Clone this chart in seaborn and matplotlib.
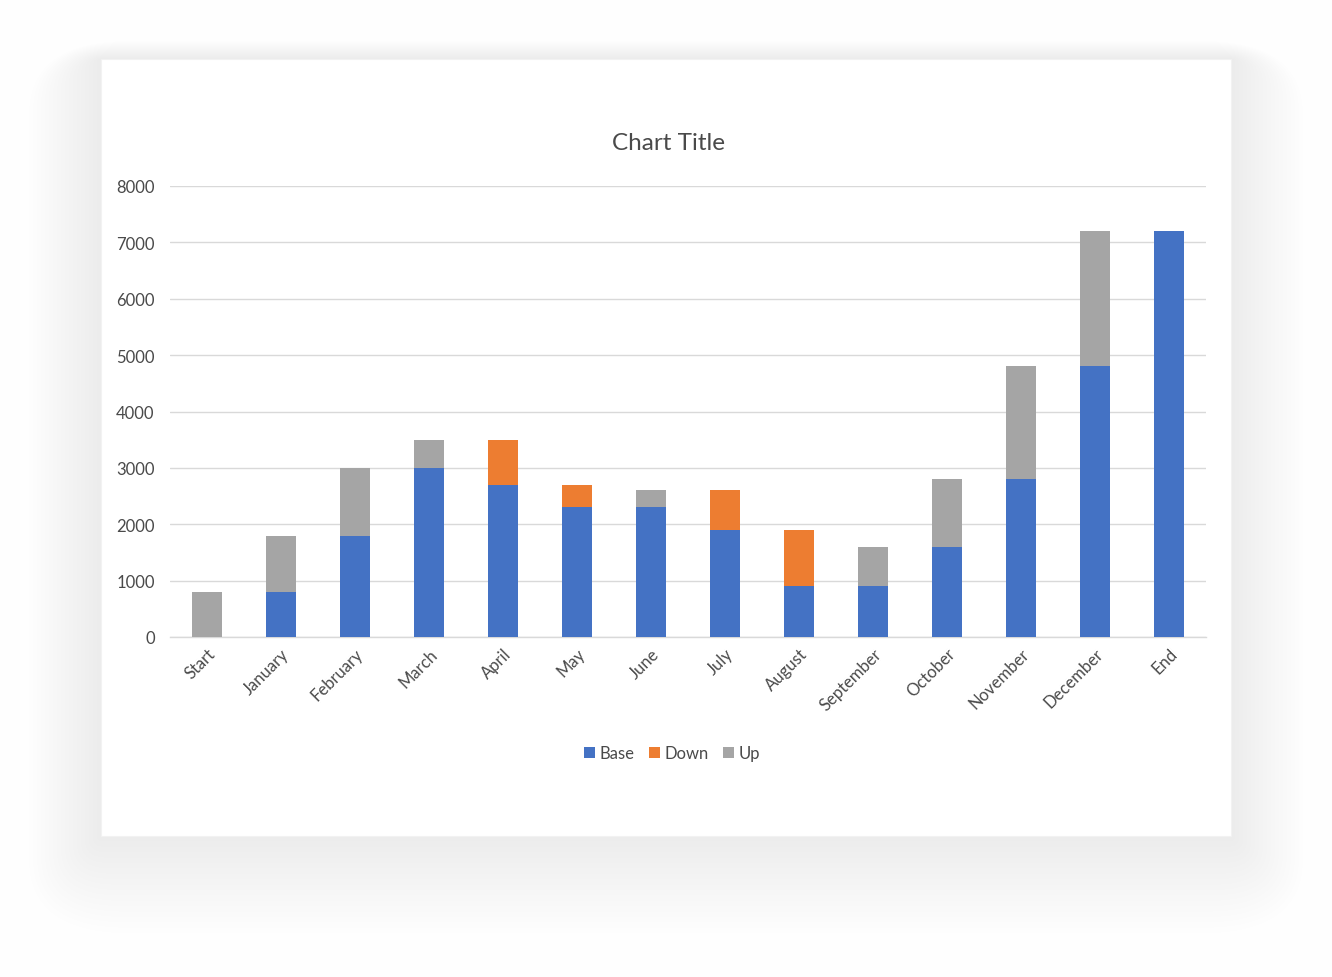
import matplotlib
matplotlib.use("Agg")
import matplotlib.pyplot as plt
import seaborn as sns
import pandas as pd
import numpy as np
from matplotlib.patches import FancyBboxPatch, Rectangle

categories = ["Start", "January", "February", "March", "April", "May", "June",
              "July", "August", "September", "October", "November", "December", "End"]
base = [0, 800, 1800, 3000, 2700, 2300, 2300, 1900, 900, 900, 1600, 2800, 4800, 7200]
down = [0, 0, 0, 0, 800, 400, 0, 700, 1000, 0, 0, 0, 0, 0]
up = [800, 1000, 1200, 500, 0, 0, 300, 0, 0, 700, 1200, 2000, 2400, 0]
yticks = [0, 1000, 2000, 3000, 4000, 5000, 6000, 7000, 8000]

colors = {"Base": "#4472C4", "Down": "#ED7D31", "Up": "#A5A5A5"}
text_color = "#4a4a4a"

sns.set_theme(style="white")
plt.rcParams['font.family'] = ['Lato', 'DejaVu Sans']

W, H = 1332, 978
fig = plt.figure(figsize=(W / 100, H / 100), dpi=100)
fig.patch.set_facecolor("#fefefe")

# card shadow (soft, layered)
card_x0, card_y0, card_x1, card_y1 = 101, 60, 1231, 837
n = 18
for i in range(n):
    pad = 72 - i * 4
    p = FancyBboxPatch(((card_x0 - pad) / W, 1 - (card_y1 + pad * 1.35) / H),
                       (card_x1 - card_x0 + 2 * pad) / W,
                       (card_y1 - card_y0 + pad * 1.35 + pad * 0.25) / H,
                       boxstyle="round,pad=0,rounding_size=%f" % (pad * 1.4 / W),
                       transform=fig.transFigure, facecolor="black", edgecolor="none",
                       alpha=0.0028, zorder=0)
    fig.patches.append(p)
card = Rectangle((card_x0 / W, 1 - card_y1 / H), (card_x1 - card_x0) / W, (card_y1 - card_y0) / H,
                 transform=fig.transFigure, facecolor="white", edgecolor="#f2f2f2", lw=0.8, zorder=1)
fig.patches.append(card)

ax = fig.add_axes([170 / W, 1 - 638 / H, (1206 - 170) / W, (638 - 187) / H])
ax.set_facecolor("none")
ax.set_zorder(2)

df = pd.DataFrame({"cat": categories, "Base": base, "Down": down, "Up": up})
bw = 0.41
sns.barplot(data=df, x="cat", y="Base", color=colors["Base"], width=bw, ax=ax,
            saturation=1, label="Base", linewidth=0, zorder=3)
sns.barplot(data=df, x="cat", y="Down", color=colors["Down"], width=bw, ax=ax,
            saturation=1, label="Down", bottom=np.array(base), linewidth=0, zorder=3)
sns.barplot(data=df, x="cat", y="Up", color=colors["Up"], width=bw, ax=ax,
            saturation=1, label="Up", bottom=np.array(base) + np.array(down), linewidth=0, zorder=3)

handles, labels = ax.get_legend_handles_labels()
if ax.get_legend() is not None:
    ax.get_legend().remove()

ax.set_xlim(-0.5, len(categories) - 0.5)
ax.set_ylim(0, 8000)
ax.set_yticks(yticks)
ax.set_yticklabels([str(v) for v in yticks])
ax.grid(axis="y", color="#d9d9d9", linewidth=1.0, zorder=0)
ax.set_axisbelow(True)
for s in ["top", "right", "left"]:
    ax.spines[s].set_visible(False)
ax.spines["bottom"].set_color("#d9d9d9")
ax.spines["bottom"].set_linewidth(1.0)
ax.set_xlabel("")
ax.set_ylabel("")
ax.tick_params(axis="both", length=0, colors=text_color, labelsize=12)
ax.tick_params(axis="y", pad=11)
ax.tick_params(axis="x", pad=6)
for lbl in ax.get_xticklabels():
    lbl.set_rotation(45)
    lbl.set_ha("right")
    lbl.set_rotation_mode("anchor")
    lbl.set_color(text_color)

fig.text(668 / W, 1 - 143 / H, "Chart Title", ha="center", va="center",
         fontsize=17.5, color=text_color)

leg = fig.legend(handles, labels, loc="center", bbox_to_anchor=(672 / W, 1 - 754 / H),
                 ncol=3, frameon=False, fontsize=12, handlelength=0.65, handleheight=0.65,
                 handletextpad=0.25, columnspacing=0.9, labelcolor=text_color)
leg.set_zorder(3)

fig.savefig("out.png", dpi=100, facecolor=fig.get_facecolor())
